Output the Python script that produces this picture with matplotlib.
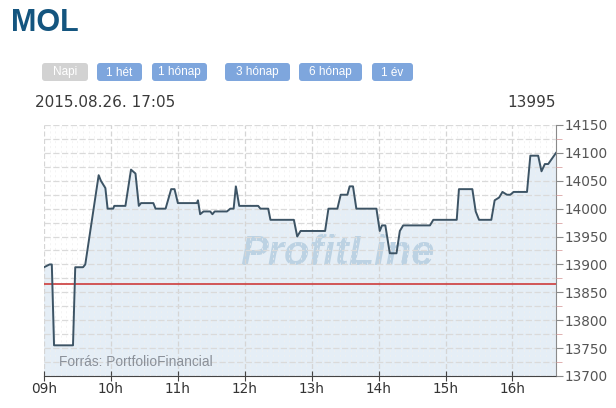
import matplotlib
matplotlib.use("Agg")
import matplotlib.pyplot as plt
from matplotlib.patches import FancyBboxPatch
from matplotlib.ticker import MultipleLocator

# MOL napi árfolyam (2015.08.26.)
times = ["09:00", "09:05", "09:07", "09:09", "09:26", "09:28", "09:35", "09:37",
         "09:49", "09:51", "09:55", "09:57", "10:02", "10:03", "10:13", "10:18",
         "10:22", "10:25", "10:27", "10:38", "10:40", "10:49", "10:54", "10:57",
         "11:00", "11:17", "11:18", "11:20", "11:23", "11:29", "11:31", "11:33",
         "11:44", "11:47", "11:50", "11:52", "11:55", "12:12", "12:14", "12:21",
         "12:23", "12:44", "12:47", "12:50", "13:12", "13:15", "13:23", "13:26",
         "13:32", "13:34", "13:37", "13:40", "13:58", "14:01", "14:03", "14:06",
         "14:10", "14:16", "14:19", "14:22", "14:46", "14:49", "15:10", "15:12",
         "15:24", "15:27", "15:30", "15:41", "15:44", "15:48", "15:51", "15:55",
         "15:58", "16:01", "16:13", "16:16", "16:23", "16:26", "16:29", "16:32",
         "16:39"]
prices = [13895, 13900, 13900, 13755, 13755, 13895, 13895, 13900,
          14060, 14050, 14037, 14000, 14000, 14005, 14005, 14070,
          14063, 14005, 14010, 14010, 14000, 14000, 14035, 14035,
          14010, 14010, 14015, 13990, 13995, 13995, 13990, 13995,
          13995, 14000, 14000, 14040, 14005, 14005, 14000, 14000,
          13980, 13980, 13950, 13960, 13960, 14000, 14000, 14025,
          14025, 14040, 14040, 14000, 14000, 13960, 13970, 13970,
          13920, 13920, 13960, 13970, 13970, 13980, 13980, 14035,
          14035, 13995, 13980, 13980, 14015, 14020, 14030, 14025,
          14025, 14030, 14030, 14095, 14095, 14067, 14080, 14080,
          14100]
prev_close = 13865
last_price = 13995
timestamp = "2015.08.26. 17:05"
hour_labels = ["09h", "10h", "11h", "12h", "13h", "14h", "15h", "16h"]
buttons = ["Napi", "1 hét", "1 hónap", "3 hónap", "6 hónap", "1 év"]

hours = [int(t[:2]) + int(t[3:]) / 60 for t in times]

fig = plt.figure(figsize=(6.16, 4.08), dpi=100)

# fejléc: cím, gombok, dátum
ov = fig.add_axes([0, 0, 1, 1], zorder=0)
ov.set_xlim(0, 616)
ov.set_ylim(408, 0)
ov.axis("off")
ov.text(11, 31, "MOL", fontsize=22, fontweight="bold", color="#14557f",
        family=["Liberation Sans Narrow", "Liberation Sans"], va="baseline")

btn_left = [42, 97, 152, 225, 299, 372]
btn_width = [46, 45, 55, 65, 63, 41]
for i, name in enumerate(buttons):
    col = "#d2d2d2" if i == 0 else "#7ea6dd"
    box = FancyBboxPatch((btn_left[i], 63), btn_width[i], 18,
                         boxstyle="round,pad=0,rounding_size=3",
                         facecolor=col, edgecolor="none")
    ov.add_patch(box)
    ov.text(btn_left[i] + btn_width[i] / 2, 72.5, name, ha="center", va="center",
            fontsize=8.5, color="white", family="Liberation Sans")

ov.text(35, 107, timestamp, fontsize=11, color="#3a3a3a", va="baseline")
ov.text(556, 107, str(last_price), fontsize=11, color="#3a3a3a", va="baseline", ha="right")

# grafikon
ax = fig.add_axes([44 / 616, 32 / 408, 512 / 616, 251 / 408], zorder=1)
ax.set_xlim(9, 16.65)
ax.set_ylim(13700, 14150)

ax.fill_between(hours, prices, 13700, color="#e5eef6", zorder=1)
ax.plot(hours, prices, color="#3d5465", linewidth=1.4, zorder=4)
ax.axhline(prev_close, color="#cf4a4a", linewidth=1.3, zorder=3)

ax.xaxis.set_minor_locator(MultipleLocator(5 / 60))
ax.set_xticks(range(9, 17))
ax.set_xticklabels(hour_labels)
ax.yaxis.set_major_locator(MultipleLocator(50))
ax.yaxis.set_minor_locator(MultipleLocator(25))
ax.yaxis.tick_right()

ax.grid(which="major", axis="x", color="#d5d5d5", linestyle=(0, (4, 2)), linewidth=0.9, zorder=2)
ax.grid(which="both", axis="y", color="#dadada", linestyle=(0, (5, 2)), linewidth=0.9, zorder=2)
ax.grid(which="minor", axis="x", color="#f0f0f0", linestyle=(0, (3, 4)), linewidth=0.5, zorder=2)
ax.set_axisbelow(False)

for s in ["top", "left"]:
    ax.spines[s].set_visible(False)
ax.spines["right"].set_color("#8a8a8a")
ax.spines["bottom"].set_color("#444444")

ax.tick_params(axis="x", which="major", direction="inout", length=7, color="#444444",
               labelsize=9.8, labelcolor="#333333", pad=1)
ax.tick_params(axis="x", which="minor", length=0)
ax.tick_params(axis="y", which="major", length=5, color="#8a8a8a",
               labelsize=9.8, labelcolor="#555555", pad=1)
ax.tick_params(axis="y", which="minor", length=4, color="#dba3a3")

ax.text(0.574, 0.485, "ProfitLine", transform=ax.transAxes, ha="center", va="center",
        fontsize=30, fontweight="bold", fontstyle="italic", color="#bcd2e3",
        family="Liberation Sans", zorder=2.5)
ax.text(0.029, 0.04, "Forrás: PortfolioFinancial", transform=ax.transAxes,
        fontsize=9.9, color="#8a9099", family="Liberation Sans", va="baseline", zorder=5)

fig.savefig("out.png", dpi=100)
